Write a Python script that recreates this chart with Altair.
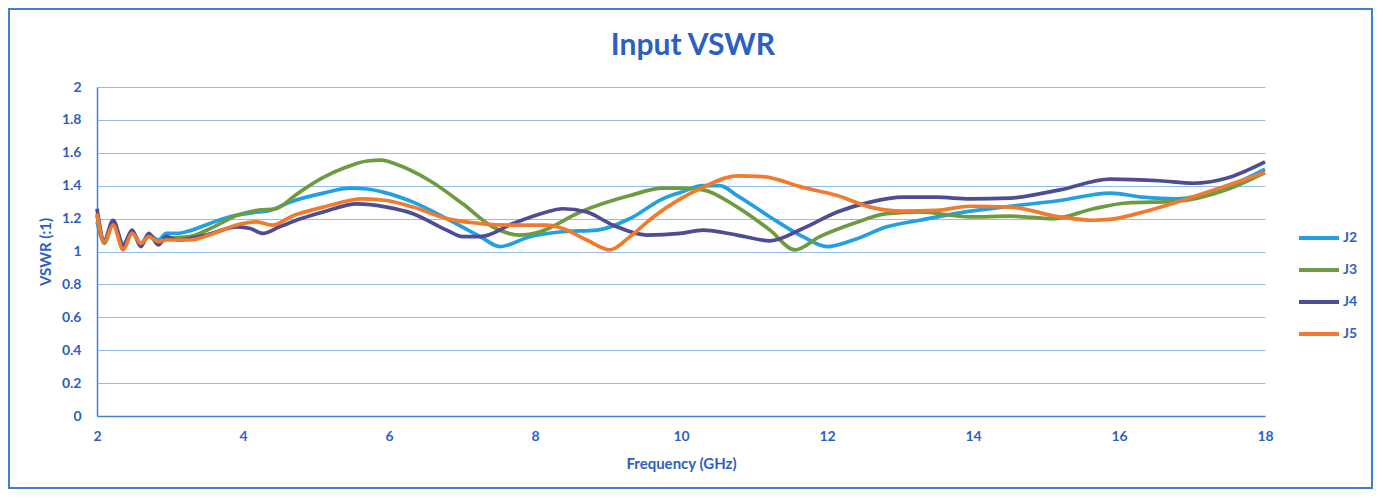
import altair as alt
import pandas as pd

chart_title = "Input VSWR"
series_names = ["J2", "J3", "J4", "J5"]
series_colors = ["#22A0E2", "#6F9B40", "#4E4C92", "#F27A2E"]

freq_j2 = [2.0, 2.1, 2.22, 2.36, 2.48, 2.6, 2.71, 2.84, 2.95, 3.1, 3.3, 3.6, 3.9, 4.2, 4.37, 4.64,
           5.1, 5.47, 5.7, 5.97, 6.33, 6.79, 7.25, 7.52, 7.93, 8.38, 8.85, 9.3, 9.75, 10.0, 10.3,
           10.53, 10.77, 11.22, 11.67, 12.0, 12.36, 12.82, 13.27, 13.82, 14.51, 15.19, 15.88,
           16.33, 16.79, 17.47, 18.0]
vswr_j2 = [1.18, 1.06, 1.17, 1.04, 1.12, 1.05, 1.10, 1.07, 1.11, 1.11, 1.13, 1.18, 1.22, 1.24, 1.25, 1.30,
           1.355, 1.385, 1.38, 1.355, 1.30, 1.20, 1.09, 1.03, 1.09, 1.12, 1.13, 1.20, 1.32, 1.36, 1.40,
           1.40, 1.34, 1.21, 1.09, 1.03, 1.07, 1.15, 1.19, 1.235, 1.275, 1.31, 1.355,
           1.33, 1.32, 1.39, 1.50]

freq_j3 = [2.0, 2.1, 2.22, 2.36, 2.48, 2.6, 2.71, 2.84, 2.95, 3.27, 3.6, 3.92, 4.2, 4.45, 4.74, 5.1,
           5.4, 5.7, 5.9, 6.1, 6.56, 7.01, 7.42, 7.79, 8.07, 8.62, 9.3, 9.75, 10.0, 10.3, 10.77,
           11.22, 11.56, 11.9, 12.36, 12.82, 13.27, 13.96, 14.51, 15.1, 15.65, 16.1, 16.79, 17.47, 18.0]
vswr_j3 = [1.22, 1.05, 1.17, 1.03, 1.12, 1.04, 1.10, 1.05, 1.08, 1.09, 1.15, 1.22, 1.25, 1.26, 1.35, 1.45,
           1.51, 1.55, 1.555, 1.53, 1.43, 1.29, 1.15, 1.10, 1.12, 1.24, 1.34, 1.385, 1.385, 1.375, 1.27,
           1.13, 1.01, 1.09, 1.17, 1.23, 1.24, 1.21, 1.215, 1.20, 1.26, 1.295, 1.305, 1.375, 1.48]

freq_j4 = [2.0, 2.1, 2.22, 2.36, 2.48, 2.6, 2.71, 2.84, 2.95, 3.1, 3.5, 3.92, 4.1, 4.27, 4.5, 4.8,
           5.1, 5.56, 5.97, 6.33, 6.79, 7.01, 7.25, 7.7, 8.16, 8.38, 8.71, 9.07, 9.53, 9.99, 10.3,
           10.77, 11.22, 11.67, 12.14, 12.59, 13.04, 13.5, 13.96, 14.51, 15.19, 15.88, 16.56,
           17.02, 17.47, 18.0]
vswr_j4 = [1.26, 1.07, 1.19, 1.04, 1.13, 1.03, 1.11, 1.04, 1.09, 1.07, 1.10, 1.15, 1.14, 1.11, 1.15, 1.20,
           1.24, 1.29, 1.27, 1.23, 1.13, 1.09, 1.09, 1.17, 1.24, 1.26, 1.24, 1.16, 1.10, 1.11, 1.13,
           1.10, 1.065, 1.14, 1.24, 1.30, 1.33, 1.33, 1.32, 1.325, 1.375, 1.44, 1.43,
           1.415, 1.445, 1.545]

freq_j5 = [2.0, 2.1, 2.22, 2.36, 2.48, 2.6, 2.71, 2.84, 2.95, 3.27, 3.6, 3.9, 4.19, 4.4, 4.7, 5.1,
           5.64, 5.97, 6.33, 6.79, 7.25, 7.7, 8.16, 8.38, 8.71, 9.03, 9.3, 9.62, 9.99, 10.3, 10.77,
           11.12, 11.67, 12.14, 12.59, 13.04, 13.5, 13.96, 14.51, 15.19, 15.65, 15.88, 16.33,
           16.79, 17.47, 18.0]
vswr_j5 = [1.23, 1.06, 1.16, 1.01, 1.11, 1.05, 1.09, 1.06, 1.07, 1.07, 1.11, 1.16, 1.18, 1.16, 1.22, 1.27,
           1.32, 1.31, 1.27, 1.20, 1.17, 1.16, 1.16, 1.14, 1.07, 1.01, 1.09, 1.21, 1.32, 1.39, 1.46,
           1.455, 1.39, 1.34, 1.27, 1.245, 1.25, 1.275, 1.27, 1.21, 1.19, 1.195, 1.24,
           1.30, 1.40, 1.48]

x_ticks = [2, 4, 6, 8, 10, 12, 14, 16, 18]
y_ticks = [0, 0.2, 0.4, 0.6, 0.8, 1.0, 1.2, 1.4, 1.6, 1.8, 2.0]

rows = []
for name, fs, vs in [("J2", freq_j2, vswr_j2), ("J3", freq_j3, vswr_j3),
                     ("J4", freq_j4, vswr_j4), ("J5", freq_j5, vswr_j5)]:
    for f, v in zip(fs, vs):
        rows.append({"series": name, "freq": f, "vswr": v})
df = pd.DataFrame(rows)

BLUE = "#2C5FC6"
FONT = "Lato"

lines = alt.Chart(df).mark_line(strokeWidth=3.7, interpolate="monotone").encode(
    x=alt.X("freq:Q", scale=alt.Scale(domain=[2, 18], nice=False, zero=False),
            axis=alt.Axis(values=x_ticks, title="Frequency (GHz)", grid=False,
                          domainColor="#4A80D2", domainWidth=1.5, ticks=False,
                          labelFlush=False, labelPadding=13, titlePadding=13)),
    y=alt.Y("vswr:Q", scale=alt.Scale(domain=[0, 2], nice=False),
            axis=alt.Axis(values=y_ticks, format=".1~f", title="VSWR (:1)",
                          gridColor="#93BDE8", gridWidth=1, domainColor="#4A80D2",
                          domainWidth=1.5, ticks=False, labelPadding=16, titlePadding=8)),
    color=alt.Color("series:N", scale=alt.Scale(domain=series_names, range=series_colors),
                    legend=alt.Legend(title=None, orient="none", legendX=1200, legendY=129,
                                      symbolType="stroke", symbolSize=1600,
                                      symbolStrokeWidth=4, rowPadding=2,
                                      labelFontSize=14, labelFontWeight="bold",
                                      labelColor=BLUE, labelFont=FONT, labelOffset=2,
                                      padding=0)),
    order=alt.Order("freq:Q"),
)

one_row = pd.DataFrame({"k": [0]})

frame = alt.Chart(one_row).mark_rect(
    fillOpacity=0, stroke="#3F7FD6", strokeWidth=2
).encode(
    x=alt.value(-88), x2=alt.value(1275), y=alt.value(-78), y2=alt.value(401)
)

title = alt.Chart(one_row).mark_text(
    fontSize=30, fontWeight="bold", color=BLUE, font=FONT, align="center", baseline="middle"
).encode(
    x=alt.value(596), y=alt.value(-41), text=alt.value(chart_title)
)

chart = alt.layer(frame, lines, title).properties(
    width=1168, height=329, padding=0,
).configure_axis(
    labelFont=FONT, labelFontSize=14, labelFontWeight="bold", labelColor=BLUE,
    titleFont=FONT, titleFontSize=15, titleFontWeight="bold", titleColor=BLUE,
).configure_view(stroke=None)

chart.save("out.html", embed_options={"renderer": "svg", "actions": False})
